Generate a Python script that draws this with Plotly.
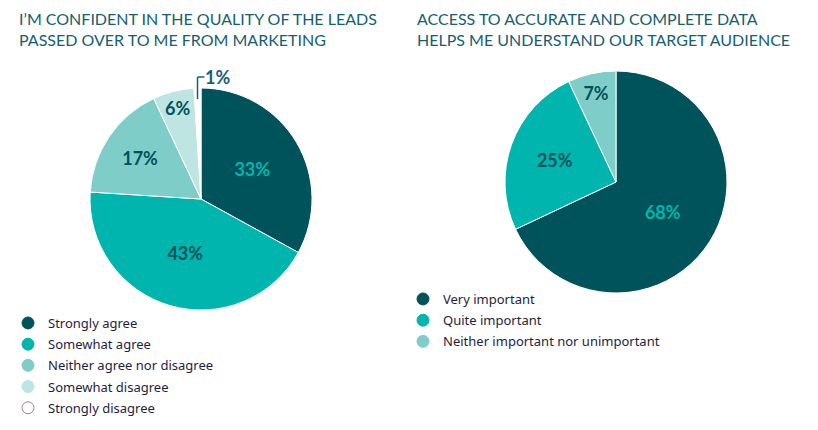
import math
import plotly.graph_objects as go

# Data
left_title = "I’M CONFIDENT IN THE QUALITY OF THE LEADS<br>PASSED OVER TO ME FROM MARKETING"
left_labels = ["Strongly agree", "Somewhat agree", "Neither agree nor disagree",
               "Somewhat disagree", "Strongly disagree"]
left_values = [33, 43, 17, 6, 1]

right_title = "ACCESS TO ACCURATE AND COMPLETE DATA<br>HELPS ME UNDERSTAND OUR TARGET AUDIENCE"
right_labels = ["Very important", "Quite important", "Neither important nor unimportant"]
right_values = [68, 25, 7]

DARK = "#00535A"
TEAL = "#00B5AE"
MID = "#7FCDC8"
LIGHT = "#BFE5E2"
WHITE = "#FFFFFF"

left_colors = [DARK, TEAL, MID, LIGHT, WHITE]
right_colors = [DARK, TEAL, MID]
left_textcolors = [TEAL, DARK, DARK, DARK, DARK]
right_textcolors = [TEAL, DARK, DARK]

TITLE_COLOR = "#16606F"
LEG_COLOR = "#1E1E3C"
PFONT = "Lato"

W, H = 818, 430
OFF = 8  # page offset of the plot div


def px(x):
    return (x - OFF) / W


def py(y):
    return 1 - (y - OFF) / H


# pie geometry (page pixels)
L_CX, L_CY, R_ = 201, 199, 111
R_CX, R_CY = 616, 182

fig = go.Figure()

fig.add_trace(go.Pie(
    values=left_values, labels=left_labels, sort=False, direction="clockwise",
    rotation=0, marker=dict(colors=left_colors, line=dict(color="white", width=1)),
    texttemplate="<b>%{value}%</b>",
    textposition=["inside", "inside", "inside", "inside", "none"],
    insidetextorientation="horizontal",
    textfont=dict(family=PFONT, size=18, color=left_textcolors),
    domain=dict(x=[px(L_CX - R_), px(L_CX + R_)], y=[py(L_CY + R_), py(L_CY - R_)]),
    showlegend=False, hoverinfo="label+percent", automargin=False,
))

fig.add_trace(go.Pie(
    values=right_values, labels=right_labels, sort=False, direction="clockwise",
    rotation=0, marker=dict(colors=right_colors, line=dict(color="white", width=1)),
    texttemplate="<b>%{value}%</b>",
    textposition="inside", insidetextorientation="horizontal",
    textfont=dict(family=PFONT, size=18, color=right_textcolors),
    domain=dict(x=[px(R_CX - R_), px(R_CX + R_)], y=[py(R_CY + R_), py(R_CY - R_)]),
    showlegend=False, hoverinfo="label+percent",
))

# Legend entries as circle markers
for i, (lab, col) in enumerate(zip(left_labels, left_colors)):
    fig.add_trace(go.Scatter(
        x=[None], y=[None], mode="markers", name=lab, legend="legend",
        legendgroup="l%d" % i,
        marker=dict(symbol="circle", size=12, color=col,
                    line=dict(color="#9A8A90" if col == WHITE else col, width=1)),
    ))
for i, (lab, col) in enumerate(zip(right_labels, right_colors)):
    fig.add_trace(go.Scatter(
        x=[None], y=[None], mode="markers", name=lab, legend="legend2",
        legendgroup="r%d" % i,
        marker=dict(symbol="circle", size=12, color=col, line=dict(color=col, width=1)),
    ))

legend_common = dict(
    font=dict(family="Noto Sans", size=13, color=LEG_COLOR),
    bgcolor="rgba(0,0,0,0)", itemwidth=30, tracegroupgap=1.3,
    xanchor="left", yanchor="top", traceorder="grouped",
)

# small-slice callout for the last left slice, placed at its mid angle
tot = sum(left_values)
mid_frac = (tot - left_values[-1] / 2) / tot
theta = 2 * math.pi * mid_frac
lx = L_CX + R_ * math.sin(theta)
y_in = L_CY - 0.9 * R_
y_top = L_CY - R_ - 11
callout_color = "#16606F"

fig.update_layout(
    width=W, height=H,
    margin=dict(l=0, r=0, t=0, b=0),
    paper_bgcolor="white", plot_bgcolor="white",
    xaxis=dict(visible=False), yaxis=dict(visible=False),
    legend=dict(x=px(8), y=py(308), **legend_common),
    legend2=dict(x=px(403), y=py(284), **legend_common),
    shapes=[
        dict(type="line", xref="paper", yref="paper", x0=px(lx), x1=px(lx),
             y0=py(y_in), y1=py(y_top), line=dict(color=callout_color, width=1.5)),
        dict(type="line", xref="paper", yref="paper", x0=px(lx), x1=px(lx + 7),
             y0=py(y_top), y1=py(y_top), line=dict(color=callout_color, width=1.5)),
    ],
    annotations=[
        dict(text=left_title, x=px(18), y=1, xref="paper", yref="paper", showarrow=False,
             xanchor="left", yanchor="top", align="left", borderpad=0,
             font=dict(family=PFONT, size=16, color=TITLE_COLOR)),
        dict(text=right_title, x=px(416), y=1, xref="paper", yref="paper", showarrow=False,
             xanchor="left", yanchor="top", align="left", borderpad=0,
             font=dict(family=PFONT, size=16, color=TITLE_COLOR)),
        dict(text="<b>%d%%</b>" % left_values[-1], x=px(lx + 5), y=py(y_top), xref="paper",
             yref="paper", showarrow=False, xanchor="left", yanchor="middle",
             font=dict(family=PFONT, size=18, color=callout_color)),
    ],
)

fig.write_html("out.html")
